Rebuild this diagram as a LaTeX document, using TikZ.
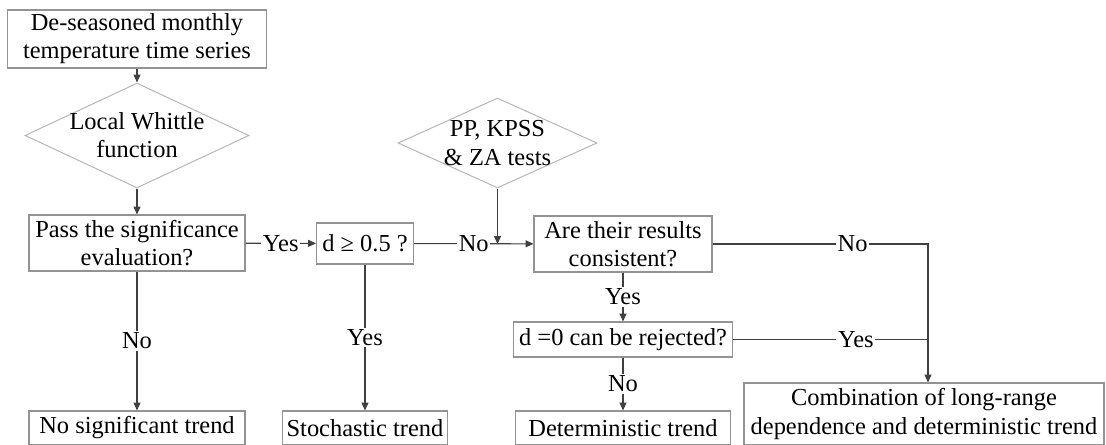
\documentclass[tikz,border=0pt]{standalone}
\usepackage{fontspec}
\setmainfont{Liberation Serif}
\usetikzlibrary{shapes.geometric, arrows.meta}

\tikzset{
  box/.style={draw=gray!85, line width=0.6pt, fill=white, align=center, inner sep=1pt},
  dec/.style={diamond, draw=gray!55, line width=0.6pt, align=center, inner sep=-3pt},
  line/.style={draw=black!75, line width=0.6pt},
  conn/.style={line, -{Triangle[length=4.5pt,width=4pt]}},
  lbl/.style={fill=white, inner sep=1pt}
}

\begin{document}
\begin{tikzpicture}[font=\fontsize{13.9pt}{16pt}\selectfont]
\useasboundingbox (0,0) rectangle (22.12,8.9);
% Left column
\node[box, minimum width=5.18cm, minimum height=1.16cm] (series) at (2.74,8.12) {De-seasoned monthly\\temperature time series};
\node[dec, aspect=2.13, minimum width=4.48cm, minimum height=2.10cm] (whittle) at (2.74,6.19) {Local Whittle\\function};
\node[box, minimum width=4.32cm, minimum height=1.12cm] (signif) at (2.74,4.04) {Pass the significance\\evaluation?};
\node[box, minimum width=4.32cm, minimum height=0.68cm] (nosig) at (2.74,0.34) {No significant trend};
% Middle column
\node[box, minimum width=1.94cm, minimum height=0.82cm] (dcheck) at (7.30,4.03) {d ≥ 0.5 ?};
\node[box, minimum width=3.30cm, minimum height=0.68cm] (stoch) at (7.30,0.34) {Stochastic trend};
% Right part
\node[dec, aspect=2.21, minimum width=3.98cm, minimum height=1.80cm] (tests) at (9.95,6.04) {PP, KPSS\\\& ZA tests};
\node[box, minimum width=3.56cm, minimum height=1.12cm] (consist) at (12.46,4.02) {Are their results\\consistent?};
\node[box, minimum width=4.38cm, minimum height=0.70cm] (reject) at (12.46,2.11) {d =0 can be rejected?};
\node[box, minimum width=4.30cm, minimum height=0.68cm] (determ) at (12.46,0.34) {Deterministic trend};
\node[box, minimum width=7.20cm, minimum height=1.24cm] (combo) at (18.48,0.62) {Combination of long-range\\dependence and deterministic trend};
\coordinate (corner) at (18.56,4.02);
% Connectors
\draw[conn] (series) -- (whittle);
\draw[conn] (whittle) -- (signif);
\draw[conn] (signif) -- node[lbl]{Yes} (dcheck);
\draw[conn] (signif) -- node[lbl]{No} (nosig);
\draw[conn] (dcheck) -- node[lbl]{Yes} (stoch);
\draw[conn] (dcheck) -- node[lbl]{No} (consist);
\draw[conn] (tests.south) -- (tests.south |- consist.west);
\draw[conn] (consist) -- node[lbl]{Yes} (reject);
\draw[conn] (reject) -- node[lbl]{No} (determ);
\draw[conn] (consist) -- node[lbl, pos=0.65]{No} (corner) -- (corner |- combo.north);
\draw[line] (reject) -- node[lbl, pos=0.63]{Yes} (reject -| corner);
\end{tikzpicture}
\end{document}
